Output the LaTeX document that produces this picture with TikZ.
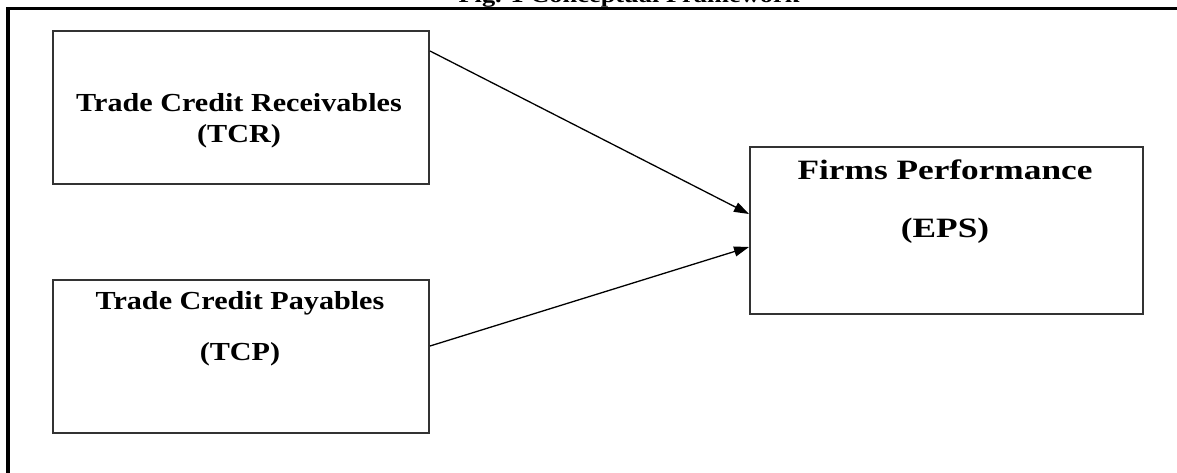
\documentclass[tikz,border=0pt]{standalone}
\usepackage{fontspec}
\setmainfont{Liberation Serif}
\usetikzlibrary{arrows.meta}
\newcommand{\wx}[2]{\scalebox{#1}[1]{#2}}
\begin{document}
\begin{tikzpicture}[x=1pt,y=-1pt,
  boxst/.style={draw=black!80, line width=2pt, fill=none, inner sep=0, anchor=north west},
  lbl/.style={font=\bfseries\fontsize{26}{30}\selectfont, inner sep=0, anchor=base},
  lblbig/.style={font=\bfseries\fontsize{28}{32}\selectfont, inner sep=0, anchor=base},
  arr/.style={line width=1.3pt, -{Triangle[length=15pt,width=10pt]}},
  frame/.style={line width=3.5pt, black}]
\useasboundingbox (0,0) rectangle (1177,473);
\begin{scope}
\clip (0,0) rectangle (1177,473);
\node[font=\bfseries\fontsize{22}{26}\selectfont, inner sep=0, anchor=base] (title) at (629,3) {\wx{1.2}{Fig. 1 Conceptual Framework}};
\end{scope}
\coordinate (ftl) at (8,8.5);
\coordinate (ftr) at (1177,8.5);
\coordinate (fbl) at (8,473);
\draw[frame] (ftr) -- (ftl) -- (fbl);
% boxes
\node[boxst, minimum width=376pt, minimum height=153pt] (tcr) at (52,30) {};
\node[boxst, minimum width=376pt, minimum height=153pt] (tcp) at (52,279) {};
\node[boxst, minimum width=393pt, minimum height=167pt] (eps) at (749,146) {};
% labels
\node[lbl] (tcr1) at (239,112) {\wx{1.16}{Trade Credit Receivables}};
\node[lbl] (tcr2) at (239,143) {\wx{1.16}{(TCR)}};
\node[lbl] (tcp1) at (240,309) {\wx{1.16}{Trade Credit Payables}};
\node[lbl] (tcp2) at (240,360) {\wx{1.16}{(TCP)}};
\node[lblbig] (eps1) at (945,180) {\wx{1.26}{Firms Performance}};
\node[lblbig] (eps2) at (945,237) {\wx{1.26}{(EPS)}};
% arrows
\draw[arr] ([yshift=-21pt]tcr.north east) -- ([yshift=-68pt]eps.north west);
\draw[arr] ([yshift=88pt]tcp.south east) -- ([yshift=-101pt]eps.north west);
\end{tikzpicture}
\end{document}
